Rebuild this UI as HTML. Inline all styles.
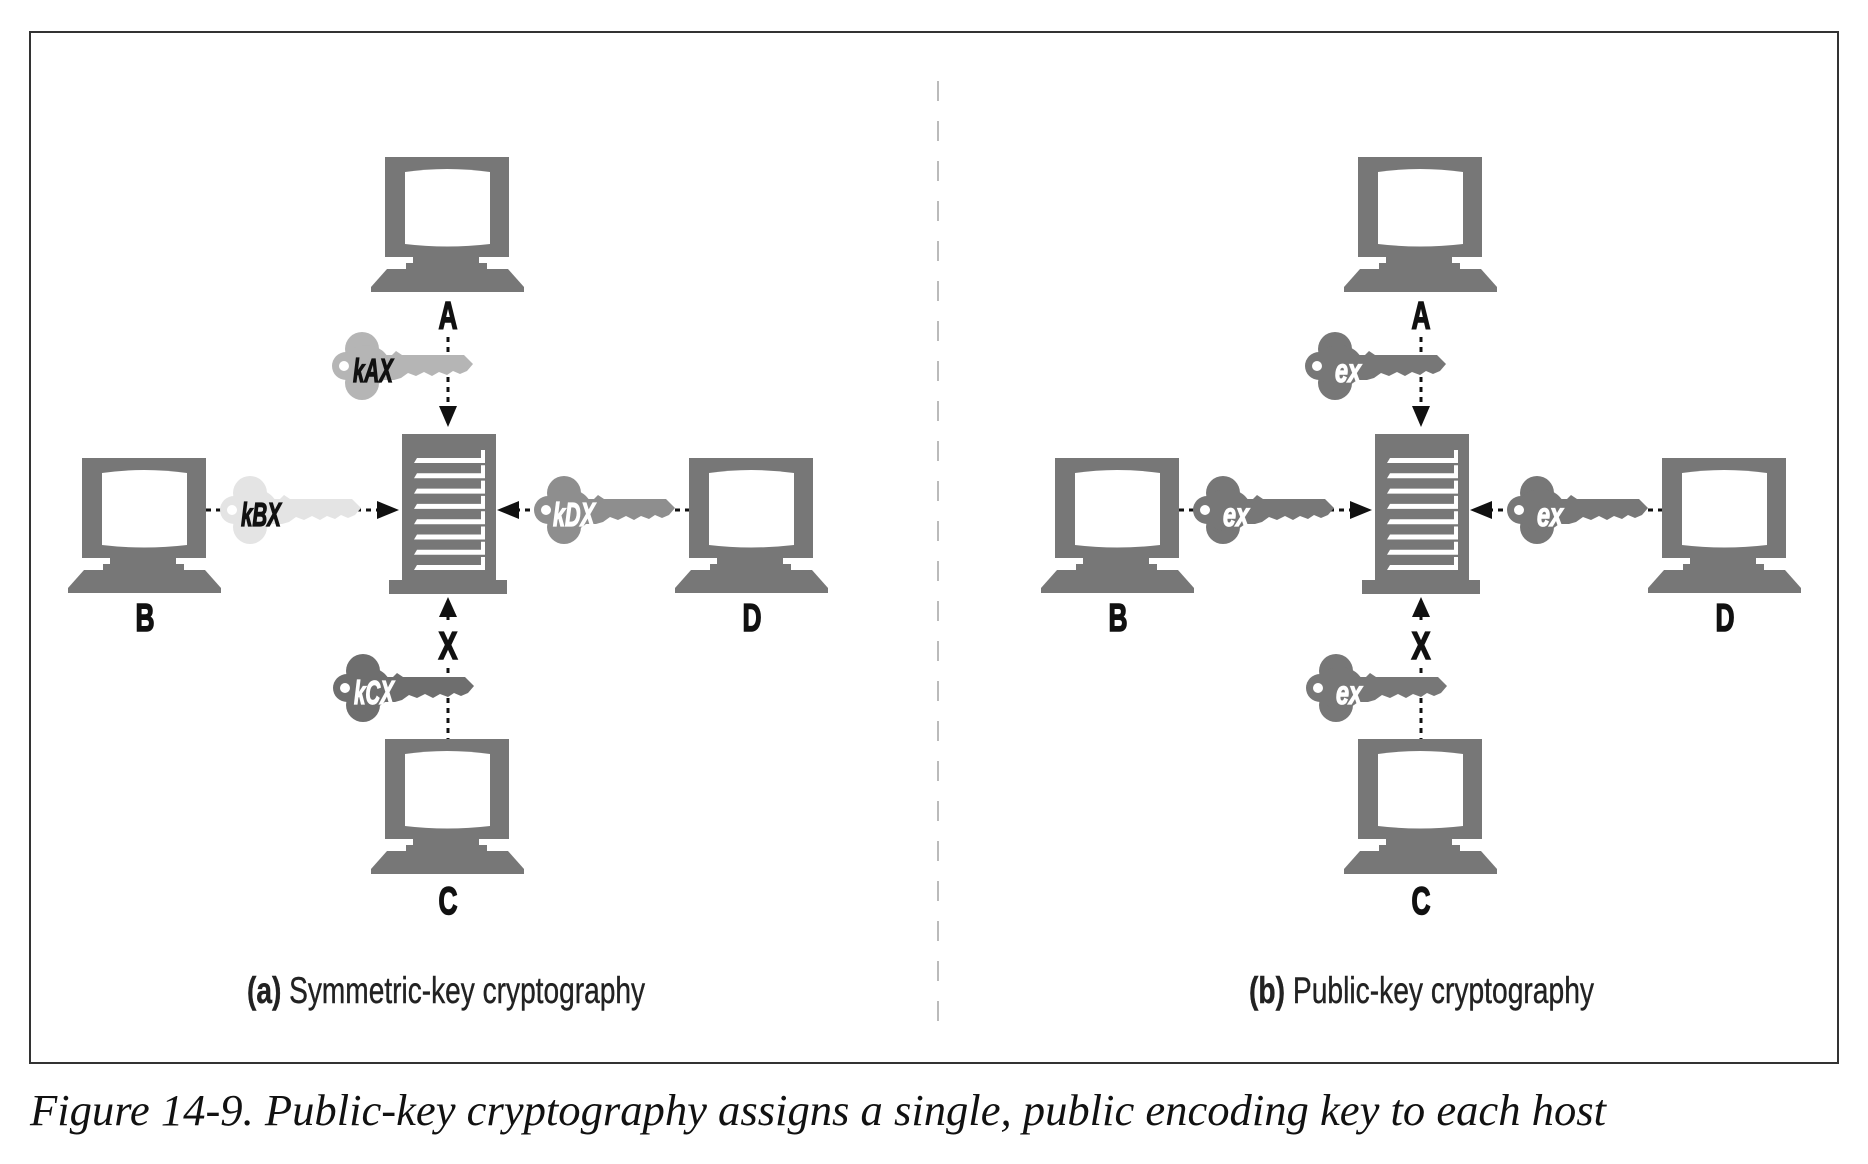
<!DOCTYPE html>
<html><head><meta charset="utf-8"><style>
html,body{margin:0;padding:0;background:#fff;width:1868px;height:1164px;overflow:hidden}
svg{display:block}
.lbl{font-family:"Liberation Sans Narrow","Liberation Sans",sans-serif;font-weight:bold;font-size:39px;fill:#111;stroke:#111;stroke-width:1.6px;text-anchor:middle}
.kt{font-family:"Liberation Sans Narrow","Liberation Sans",sans-serif;font-weight:bold;font-style:italic;font-size:33px;stroke-width:1.3px}
.cap{font-family:"Liberation Sans Narrow","Liberation Sans",sans-serif;font-size:37px;fill:#222;stroke:#222;stroke-width:0.4px}
</style></head><body>
<svg width="1868" height="1164" viewBox="0 0 1868 1164" xmlns="http://www.w3.org/2000/svg">
<defs>
<g id="mon">
  <rect x="-62" y="0" width="124" height="100" fill="#777"/>
  <path d="M-42,15 Q0,9 43,15 L43,87 Q0,92 -42,87 Z" fill="#fff"/>
  <rect x="-34" y="99" width="66" height="8" fill="#777"/>
  <rect x="-41" y="106" width="81" height="7" fill="#777"/>
  <path d="M-60,112 L61,112 L77,130 L77,135 L-76,135 L-76,130 Z" fill="#777"/>
</g>
<g id="srv">
  <rect x="0" y="0" width="94" height="147" fill="#777"/>
  <rect x="-13" y="146" width="118" height="14" fill="#777"/>
  <g fill="#fff">
    <path id="sl" d="M15,24 L79,24 L79,16 L83,16 L83,29 L12,29 Z"/>
    <use href="#sl" y="15.3"/><use href="#sl" y="30.6"/><use href="#sl" y="45.9"/>
    <use href="#sl" y="61.2"/><use href="#sl" y="76.5"/><use href="#sl" y="91.8"/><use href="#sl" y="107"/>
  </g>
</g>
<g id="key">
  <circle cx="30" cy="-17" r="17"/>
  <circle cx="30" cy="17" r="17"/>
  <circle cx="14" cy="0" r="14"/>
  <ellipse cx="34" cy="0" rx="24" ry="21"/>
  <path d="M50,-11 L60,-11 L64,-15 L70,-11 L132,-11 L141,-2 L135,5 L128,8 L121,5 L115,9 L107,6 L100,10 L92,6 L84,10 L76,7 L69,12 L62,14 L50,14 Z"/>
  <circle cx="12" cy="0" r="5" fill="#fff"/>
</g>
</defs>

<rect x="30" y="32" width="1808" height="1031" fill="none" stroke="#333" stroke-width="2"/>
<line x1="938" y1="81" x2="938" y2="1024" stroke="#bbb" stroke-width="2" stroke-dasharray="20 20"/>

<g stroke="#111" stroke-width="3" stroke-dasharray="5 5" fill="none">
  <line x1="448" y1="337" x2="448" y2="408"/>
  <line x1="206" y1="510" x2="379" y2="510"/>
  <line x1="690" y1="510" x2="517" y2="510"/>
  <line x1="448" y1="615" x2="448" y2="625"/>
  <line x1="448" y1="668" x2="448" y2="739"/>
  <line x1="1421" y1="337" x2="1421" y2="408"/>
  <line x1="1179" y1="510" x2="1352" y2="510"/>
  <line x1="1663" y1="510" x2="1490" y2="510"/>
  <line x1="1421" y1="615" x2="1421" y2="625"/>
  <line x1="1421" y1="668" x2="1421" y2="739"/>
</g>
<g fill="#111">
  <polygon points="439,406 457,406 448,427"/>
  <polygon points="377,501 377,519 399,510"/>
  <polygon points="519,501 519,519 497,510"/>
  <polygon points="439,617 457,617 448,597"/>
  <polygon points="1412,406 1430,406 1421,427"/>
  <polygon points="1350,501 1350,519 1372,510"/>
  <polygon points="1492,501 1492,519 1470,510"/>
  <polygon points="1412,617 1430,617 1421,597"/>
</g>

<use href="#mon" x="447" y="157"/>
<use href="#mon" x="144" y="458"/>
<use href="#mon" x="751" y="458"/>
<use href="#mon" x="447" y="739"/>
<use href="#srv" x="402" y="434"/>
<text class="lbl" x="448" y="329" textLength="19" lengthAdjust="spacingAndGlyphs">A</text>
<text class="lbl" x="145" y="631" textLength="19" lengthAdjust="spacingAndGlyphs">B</text>
<text class="lbl" x="752" y="631" textLength="19" lengthAdjust="spacingAndGlyphs">D</text>
<text class="lbl" x="448" y="659" textLength="19" lengthAdjust="spacingAndGlyphs">X</text>
<text class="lbl" x="448" y="914" textLength="19" lengthAdjust="spacingAndGlyphs">C</text>

<use href="#key" x="332" y="366" fill="#b5b5b5"/>
<text class="kt" x="353" y="382" fill="#111" stroke="#111" textLength="40" lengthAdjust="spacingAndGlyphs">kAX</text>
<use href="#key" x="220" y="510" fill="#e4e4e4"/>
<text class="kt" x="241" y="526" fill="#111" stroke="#111" textLength="40" lengthAdjust="spacingAndGlyphs">kBX</text>
<use href="#key" x="534" y="510" fill="#8e8e8e"/>
<text class="kt" x="553" y="526" fill="#fff" stroke="#fff" textLength="42" lengthAdjust="spacingAndGlyphs">kDX</text>
<use href="#key" x="333" y="688" fill="#6e6e6e"/>
<text class="kt" x="354" y="704" fill="#fff" stroke="#fff" textLength="40" lengthAdjust="spacingAndGlyphs">kCX</text>

<use href="#mon" x="1420" y="157"/>
<use href="#mon" x="1117" y="458"/>
<use href="#mon" x="1724" y="458"/>
<use href="#mon" x="1420" y="739"/>
<use href="#srv" x="1375" y="434"/>
<text class="lbl" x="1421" y="329" textLength="19" lengthAdjust="spacingAndGlyphs">A</text>
<text class="lbl" x="1118" y="631" textLength="19" lengthAdjust="spacingAndGlyphs">B</text>
<text class="lbl" x="1725" y="631" textLength="19" lengthAdjust="spacingAndGlyphs">D</text>
<text class="lbl" x="1421" y="659" textLength="19" lengthAdjust="spacingAndGlyphs">X</text>
<text class="lbl" x="1421" y="914" textLength="19" lengthAdjust="spacingAndGlyphs">C</text>

<use href="#key" x="1305" y="366" fill="#777"/>
<text class="kt" x="1335" y="382" fill="#fff" stroke="#fff" textLength="26" lengthAdjust="spacingAndGlyphs">ex</text>
<use href="#key" x="1193" y="510" fill="#777"/>
<text class="kt" x="1223" y="526" fill="#fff" stroke="#fff" textLength="26" lengthAdjust="spacingAndGlyphs">ex</text>
<use href="#key" x="1507" y="510" fill="#777"/>
<text class="kt" x="1537" y="526" fill="#fff" stroke="#fff" textLength="26" lengthAdjust="spacingAndGlyphs">ex</text>
<use href="#key" x="1306" y="688" fill="#777"/>
<text class="kt" x="1336" y="704" fill="#fff" stroke="#fff" textLength="26" lengthAdjust="spacingAndGlyphs">ex</text>

<text class="cap" x="247" y="1003" textLength="398" lengthAdjust="spacingAndGlyphs"><tspan font-weight="bold">(a)</tspan> Symmetric-key cryptography</text>
<text class="cap" x="1249" y="1003" textLength="345" lengthAdjust="spacingAndGlyphs"><tspan font-weight="bold">(b)</tspan> Public-key cryptography</text>

<text x="30" y="1125" font-family="'Liberation Serif',serif" font-style="italic" font-size="44" fill="#111" textLength="1576" lengthAdjust="spacingAndGlyphs">Figure 14-9. Public-key cryptography assigns a single, public encoding key to each host</text>
</svg>
</body></html>
